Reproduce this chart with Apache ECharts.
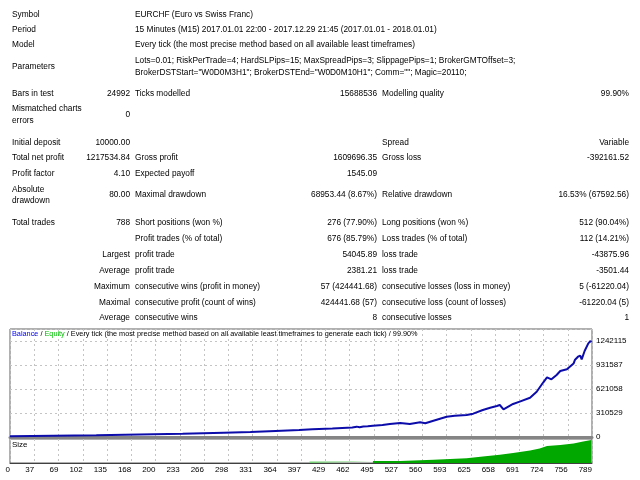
<!DOCTYPE html>
<html>
<head>
<meta charset="utf-8">
<title>Strategy Tester Report</title>
<script src="https://cdn.jsdelivr.net/npm/echarts@6/dist/echarts.min.js"></script>
<style>
	html, body { margin: 0; padding: 0; background: #fff; }
	#wrap { position: relative; width: 640px; height: 480px; overflow: hidden; }
	#chart { position: absolute; left: 0; top: 0; width: 640px; height: 480px; }
	#report { position: absolute; left: 0; top: 0; width: 640px; height: 325px; }
	#report span {
		position: absolute; white-space: nowrap;
		font-family: 'Liberation Sans', Arial, sans-serif; font-size: 8.3px;
		line-height: 10px; color: #000;
	}
</style>
</head>
<body>
<div id="wrap">
	<div id="chart"></div>
	<div id="report"></div>
</div>
<script>
// tick labels of the graph
var xTickLabels = ['0', '37', '69', '102', '135', '168', '200', '233', '266', '298', '331', '364',
	'397', '429', '462', '495', '527', '560', '593', '625', '658', '691', '724', '756', '789'];
var yTickLabels = ['0', '310529', '621058', '931587', '1242115'];

// balance curve (trade number -> balance)
var balanceTrades = [0, 117, 118, 234, 235, 290, 291, 326, 327, 360, 361, 392, 393, 410, 411, 437, 438,
	464, 470, 474, 479, 485, 492, 505, 515, 529, 542, 556, 563, 574, 592, 603, 619, 628, 641, 651,
	660, 664, 669, 671, 682, 691, 705, 714, 723, 728, 731, 734, 741, 746, 755, 764, 766, 770, 773,
	775, 779, 784, 787, 788];
var balanceValues = [10000, 22000, 35000, 42000, 50000, 56000, 62000, 66000, 72000, 79000, 85000,
	90000, 95000, 100000, 105000, 111000, 116000, 124000, 134000, 126000, 135000, 138000, 146000,
	155000, 168000, 181000, 168000, 190000, 177000, 211000, 263000, 276000, 285000, 302000, 349000,
	379000, 401000, 414000, 358000, 349000, 427000, 457000, 508000, 586000, 708000, 772000, 759000,
	746000, 802000, 854000, 876000, 950000, 1000000, 1039000, 1052000, 1005000, 1113000, 1212000,
	1242115, 1227535];

// lot size panel
var sizeLightTrades = [406, 492];
var sizeLightLots = [22, 22];
var sizeTrades = [492, 529, 574, 619, 641, 664, 682, 705, 718, 728, 746, 764, 777, 788];
var sizeLots = [30, 30, 45, 70, 95, 120, 145, 180, 210, 245, 260, 280, 310, 330];

// report table rows: [y, text, x, align]
var reportTexts = [
	[14, 'Symbol', 12, 'l'], [14, 'EURCHF (Euro vs Swiss Franc)', 135, 'l'],
	[29, 'Period', 12, 'l'], [29, '15 Minutes (M15) 2017.01.01 22:00 - 2017.12.29 21:45 (2017.01.01 - 2018.01.01)', 135, 'l'],
	[44, 'Model', 12, 'l'], [44, 'Every tick (the most precise method based on all available least timeframes)', 135, 'l'],
	[66, 'Parameters', 12, 'l'],
	[60, 'Lots=0.01; RiskPerTrade=4; HardSLPips=15; MaxSpreadPips=3; SlippagePips=1; BrokerGMTOffset=3;', 135, 'l'],
	[72, 'BrokerDSTStart="W0D0M3H1"; BrokerDSTEnd="W0D0M10H1"; Comm=""; Magic=20110;', 135, 'l'],
	[93, 'Bars in test', 12, 'l'], [93, '24992', 130, 'r'], [93, 'Ticks modelled', 135, 'l'],
	[93, '15688536', 377, 'r'], [93, 'Modelling quality', 382, 'l'], [93, '99.90%', 629, 'r'],
	[108, 'Mismatched charts', 12, 'l'], [120, 'errors', 12, 'l'], [114, '0', 130, 'r'],
	[142, 'Initial deposit', 12, 'l'], [142, '10000.00', 130, 'r'], [142, 'Spread', 382, 'l'], [142, 'Variable', 629, 'r'],
	[157, 'Total net profit', 12, 'l'], [157, '1217534.84', 130, 'r'], [157, 'Gross profit', 135, 'l'],
	[157, '1609696.35', 377, 'r'], [157, 'Gross loss', 382, 'l'], [157, '-392161.52', 629, 'r'],
	[173, 'Profit factor', 12, 'l'], [173, '4.10', 130, 'r'], [173, 'Expected payoff', 135, 'l'], [173, '1545.09', 377, 'r'],
	[189, 'Absolute', 12, 'l'], [200, 'drawdown', 12, 'l'], [194, '80.00', 130, 'r'], [194, 'Maximal drawdown', 135, 'l'],
	[194, '68953.44 (8.67%)', 377, 'r'], [194, 'Relative drawdown', 382, 'l'], [194, '16.53% (67592.56)', 629, 'r'],
	[222, 'Total trades', 12, 'l'], [222, '788', 130, 'r'], [222, 'Short positions (won %)', 135, 'l'],
	[222, '276 (77.90%)', 377, 'r'], [222, 'Long positions (won %)', 382, 'l'], [222, '512 (90.04%)', 629, 'r'],
	[238, 'Profit trades (% of total)', 135, 'l'], [238, '676 (85.79%)', 377, 'r'],
	[238, 'Loss trades (% of total)', 382, 'l'], [238, '112 (14.21%)', 629, 'r'],
	[254, 'Largest', 130, 'r'], [254, 'profit trade', 135, 'l'], [254, '54045.89', 377, 'r'],
	[254, 'loss trade', 382, 'l'], [254, '-43875.96', 629, 'r'],
	[270, 'Average', 130, 'r'], [270, 'profit trade', 135, 'l'], [270, '2381.21', 377, 'r'],
	[270, 'loss trade', 382, 'l'], [270, '-3501.44', 629, 'r'],
	[286, 'Maximum', 130, 'r'], [286, 'consecutive wins (profit in money)', 135, 'l'], [286, '57 (424441.68)', 377, 'r'],
	[286, 'consecutive losses (loss in money)', 382, 'l'], [286, '5 (-61220.04)', 629, 'r'],
	[302, 'Maximal', 130, 'r'], [302, 'consecutive profit (count of wins)', 135, 'l'], [302, '424441.68 (57)', 377, 'r'],
	[302, 'consecutive loss (count of losses)', 382, 'l'], [302, '-61220.04 (5)', 629, 'r'],
	[317, 'Average', 130, 'r'], [317, 'consecutive wins', 135, 'l'], [317, '8', 377, 'r'],
	[317, 'consecutive losses', 382, 'l'], [317, '1', 629, 'r']
];

var report = document.getElementById('report');
for (var i = 0; i < reportTexts.length; i++) {
	var r = reportTexts[i];
	var s = document.createElement('span');
	s.textContent = r[1];
	s.style.top = (r[0] - 5) + 'px';
	if (r[3] == 'r') {
		s.style.right = (640 - r[2]) + 'px';
	} else {
		s.style.left = r[2] + 'px';
	}
	report.appendChild(s);
}

function zip(xs, ys) {
	var out = [];
	for (var i = 0; i < xs.length; i++) out.push([xs[i], ys[i]]);
	return out;
}

var xStep = 789 / 24;
var yStep = 1242115 / 4;
var font = 'Liberation Sans';
var dotted = { show: true, lineStyle: { color: '#c4c4c4', type: [2, 3], width: 1 } };

var myChart = echarts.init(document.getElementById('chart'));
var option = {
	animation: false,
	textStyle: { fontFamily: font },
	title: [{
		left: 12,
		top: 330,
		text: '{b|Balance} / {e|Equity} / Every tick (the most precise method based on all available least timeframes to generate each tick) / 99.90%',
		textStyle: {
			fontSize: 7.3, fontWeight: 'normal', color: '#000', fontFamily: font,
			rich: {
				b: { color: '#0000ff', fontSize: 7.3, fontFamily: font },
				e: { color: '#00c000', fontSize: 7.3, fontFamily: font }
			}
		},
		padding: 0
	}, {
		left: 12,
		top: 441,
		text: 'Size',
		textStyle: { fontSize: 8, fontWeight: 'normal', color: '#000', fontFamily: font },
		padding: 0
	}],
	grid: [{
		left: 10, top: 329, width: 582, height: 108,
		show: true, borderColor: '#606060', borderWidth: 1
	}, {
		left: 10, top: 439, width: 582, height: 24,
		show: true, borderColor: '#606060', borderWidth: 1
	}],
	xAxis: [{
		gridIndex: 0, type: 'value', min: 0, max: 789, interval: xStep,
		axisLine: { show: true, onZero: false, lineStyle: { color: '#858585', width: 3 } },
		axisTick: { show: false },
		axisLabel: { show: false },
		splitLine: dotted
	}, {
		gridIndex: 1, type: 'value', min: 0, max: 789, interval: xStep,
		axisLine: { show: true, onZero: false, lineStyle: { color: '#404040', width: 1 } },
		axisTick: { show: false },
		axisLabel: {
			fontSize: 8, color: '#000', align: 'right', margin: 3,
			formatter: function(v) {
				return xTickLabels[Math.round(v / xStep)] || '';
			}
		},
		splitLine: dotted
	}],
	yAxis: [{
		gridIndex: 0, type: 'value', position: 'right', min: 0, max: yStep * 4.5, interval: yStep,
		axisLine: { show: false },
		axisTick: { show: false },
		axisLabel: {
			fontSize: 8, color: '#000', margin: 4, showMaxLabel: false,
			formatter: function(v) {
				return yTickLabels[Math.round(v / yStep)] || '';
			}
		},
		splitLine: dotted
	}, {
		gridIndex: 1, type: 'value', min: 0, max: 345,
		axisLine: { show: false }, axisTick: { show: false },
		axisLabel: { show: false }, splitLine: { show: false }
	}],
	series: [{
		name: 'Balance',
		type: 'line',
		xAxisIndex: 0, yAxisIndex: 0,
		data: zip(balanceTrades, balanceValues),
		symbol: 'none',
		lineStyle: { color: '#0c0caa', width: 2 },
		z: 5
	}, {
		name: 'SizeLight',
		type: 'line',
		xAxisIndex: 1, yAxisIndex: 1,
		data: zip(sizeLightTrades, sizeLightLots),
		symbol: 'none',
		lineStyle: { width: 0 },
		areaStyle: { color: '#74d374', opacity: 1 }
	}, {
		name: 'Size',
		type: 'line',
		xAxisIndex: 1, yAxisIndex: 1,
		data: zip(sizeTrades, sizeLots),
		symbol: 'none',
		lineStyle: { width: 0 },
		areaStyle: { color: '#00a800', opacity: 1 }
	}]
};
myChart.setOption(option);
</script>
</body>
</html>
